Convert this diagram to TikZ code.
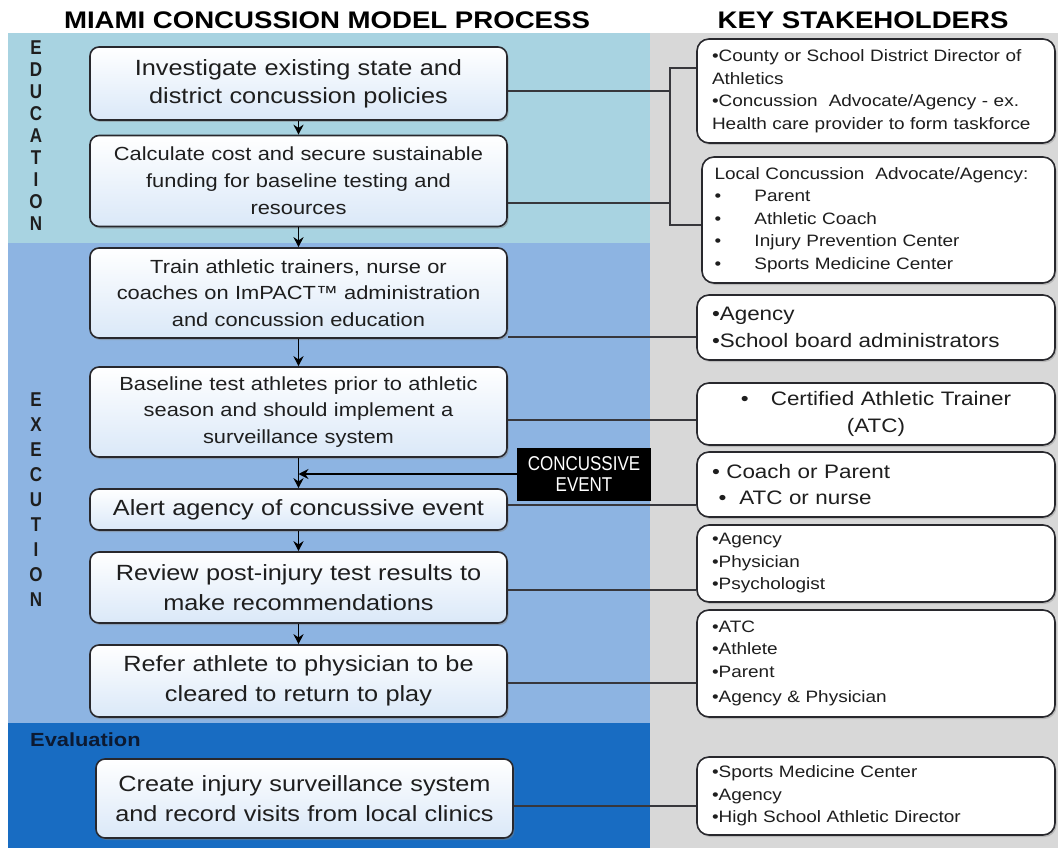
\documentclass[tikz,border=0pt]{standalone}
\usepackage{fontspec}
\setmainfont{Liberation Sans}[FakeStretch=1.15]
\newfontfamily\narrowsans{Liberation Sans}[FakeStretch=0.85]
\usepackage{tikz}
\usetikzlibrary{arrows.meta, shadows}

\definecolor{eduteal}{RGB}{168,211,225}
\definecolor{execblue}{RGB}{141,180,226}
\definecolor{evalblue}{RGB}{24,108,194}
\definecolor{sidegray}{RGB}{216,216,216}
\definecolor{boxline}{RGB}{40,40,45}
\definecolor{boxfill}{RGB}{218,232,248}
\definecolor{linkgray}{RGB}{55,55,60}
\definecolor{inkdark}{RGB}{30,30,30}

\newcommand{\pxfont}[2]{\fontsize{#1}{#2}\selectfont}

\tikzset{
  procbox/.style={draw=boxline, line width=1.6pt, rounded corners=9pt,
    top color=white, bottom color=boxfill, text=inkdark,
    minimum width=417pt, text width=395pt, align=center,
    drop shadow={opacity=0.45, shadow xshift=1.5pt, shadow yshift=-2pt}},
  keybox/.style={draw=boxline, line width=1.6pt, rounded corners=12pt,
    fill=white, text=inkdark, minimum width=358pt, text width=328pt,
    align=left, font=\pxfont{16.5}{22.5},
    drop shadow={opacity=0.35, shadow xshift=1.5pt, shadow yshift=-2pt}},
  sidelabel/.style={inner sep=0pt, text=inkdark,
    font={\narrowsans\bfseries\pxfont{20}{20}}},
  title/.style={inner sep=0pt, text=black, font={\bfseries\pxfont{24}{24}}},
  link/.style={draw=linkgray, line width=1.4pt},
  flow/.style={-{Stealth[length=10pt,width=10pt]}, line width=1.8pt, draw=black},
}

\begin{document}
\begin{tikzpicture}[x=1pt, y=-1pt]
\useasboundingbox (0,0) rectangle (1058,848);
% bands behind the two columns
\fill[eduteal] (8,33) rectangle (650,243);
\fill[execblue] (8,243) rectangle (650,723);
\fill[evalblue] (8,723) rectangle (650,848);
\fill[sidegray] (650,33) rectangle (1058,848);

\node[title] (proctitle) at (327,20) {MIAMI CONCUSSION MODEL PROCESS};
\node[title] (keytitle) at (863,20) {KEY STAKEHOLDERS};

% stage letters
\foreach \ch [count=\i from 0] in {E,D,U,C,A,T,I,O,N}
  \node[sidelabel] (edu\i) at (36,48+22*\i) {\ch};
\foreach \ch [count=\i from 0] in {E,X,E,C,U,T,I,O,N}
  \node[sidelabel] (exe\i) at (36,400+25*\i) {\ch};
\node[inner sep=0pt, anchor=west, text={rgb,255:red,12;green,26;blue,50},
  font={\bfseries\pxfont{19}{19}}] (evaltag) at (30,740) {Evaluation};

% process steps
\begin{scope}[every node/.style={procbox}]
  \node[minimum height=73pt, font=\pxfont{22}{28}] (b1) at (298.5,83.5)
    {Investigate existing state and\\district concussion policies};
  \node[minimum height=91pt, font=\pxfont{19}{27}] (b2) at (298.5,181)
    {Calculate cost and secure sustainable\\funding for baseline testing and\\resources};
  \node[minimum height=90pt, font=\pxfont{19}{26.5}] (b3) at (298.5,293)
    {Train athletic trainers, nurse or\\coaches on ImPACT™ administration\\and concussion education};
  \node[minimum height=90pt, font=\pxfont{19}{26.5}] (b4) at (298.5,412)
    {Baseline test athletes prior to athletic\\season and should implement a\\surveillance system};
  \node[minimum height=41pt, font=\pxfont{22}{28}] (b5) at (298.5,509.5)
    {\mbox{Alert agency of concussive event}};
  \node[minimum height=71pt, font=\pxfont{22}{30}] (b6) at (298.5,587.5)
    {Review post-injury test results to\\make recommendations};
  \node[minimum height=72pt, font=\pxfont{22}{30}] (b7) at (298.5,681)
    {Refer athlete to physician to be\\cleared to return to play};
  \node[minimum height=79pt, font=\pxfont{22}{30}] (b8) at (304.5,798.5)
    {Create injury surveillance system\\and record visits from local clinics};
\end{scope}

\node[fill=black, text=white, minimum width=134pt, minimum height=53pt,
  inner sep=0pt, align=center, font={\narrowsans\pxfont{20}{21}}] (ev) at (584,474)
  {CONCUSSIVE\\EVENT};

% stakeholders
\begin{scope}[every node/.style={keybox}]
  \node[minimum height=104pt] (s1) at (876,91)
    {•County or School District Director of\\Athletics\\•Concussion\ \ Advocate/Agency - ex.\\Health care provider to form taskforce};
  \node[minimum height=126pt, minimum width=353pt, text width=328pt] (s2) at (878.5,220)
    {Local Concussion\ \ Advocate/Agency:\\
     \makebox[40pt][l]{•}Parent\\
     \makebox[40pt][l]{•}Athletic Coach\\
     \makebox[40pt][l]{•}Injury Prevention Center\\
     \makebox[40pt][l]{•}Sports Medicine Center};
  \node[minimum height=65pt, font=\pxfont{19.5}{27}] (s3) at (876,327.5)
    {•Agency\\•School board administrators};
  \node[minimum height=62pt, align=center, font=\pxfont{19.5}{27}] (s4) at (876,414)
    {•\hspace{22pt}Certified Athletic Trainer\\(ATC)};
  \node[minimum height=65pt, font=\pxfont{19.5}{26}] (s5) at (876,484.5)
    {• Coach or Parent\\\ • \ ATC or nurse};
  \node[minimum height=77pt] (s6) at (876,563.5)
    {•Agency\\•Physician\\•Psychologist};
  \node[minimum height=107pt] (s7) at (876,663.5)
    {•ATC\\•Athlete\\•Parent\\[3pt]•Agency \& Physician};
  \node[minimum height=78pt] (s8) at (876,796)
    {•Sports Medicine Center\\•Agency\\•High School Athletic Director};
\end{scope}

% bracket shared by the first two steps
\coordinate (forktop) at (670,68);
\coordinate (forkbot) at (670,225);
\draw[link] (s1.west |- forktop) -- (forktop) -- (forkbot) -- (s2.west |- forkbot);
\draw[link] (b1.east |- 0,91) -- (forktop |- 0,91);
\draw[link] (b2.east |- 0,203) -- (forktop |- 0,203);
\foreach \a/\b/\y in {b3/s3/337, b4/s4/420, b5/s5/505, b6/s6/590, b7/s7/683, b8/s8/806}
  \draw[link] (\a.east |- 0,\y) -- (\b.west |- 0,\y);

% flow between the steps
\foreach \a/\b in {b1/b2, b2/b3, b3/b4, b4/b5, b5/b6, b6/b7}
  \draw[flow] (\a) -- (\b);
\draw[flow] (ev.west) -- (ev.west -| b4.south);
\end{tikzpicture}
\end{document}
